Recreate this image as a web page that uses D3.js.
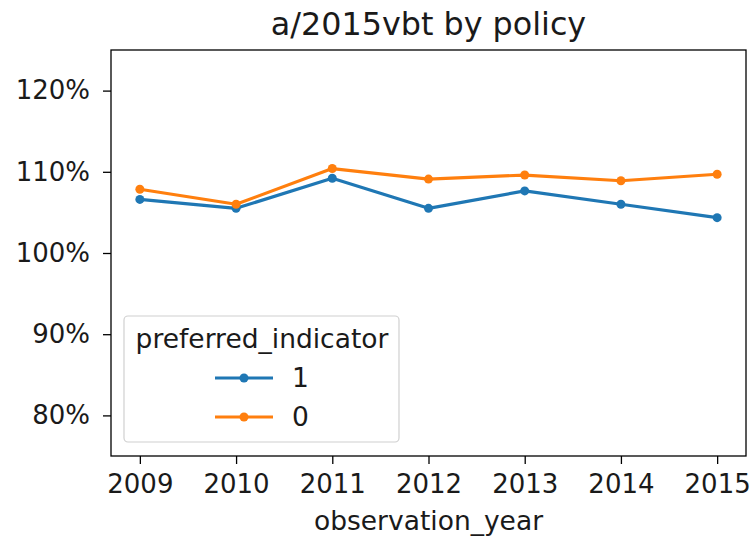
<!DOCTYPE html>
<html>
<head>
<meta charset="utf-8">
<script src="https://cdn.jsdelivr.net/npm/d3@7"></script>
<style>
  body { margin: 0; background: #fff; }
  text { font-family: "DejaVu Sans", sans-serif; fill: #1a1a1a; }
</style>
</head>
<body>
<script>
// data
var years = [2009, 2010, 2011, 2012, 2013, 2014, 2015];
var pref1 = [106.6, 105.5, 109.2, 105.5, 107.65, 106.0, 104.35];
var pref0 = [107.85, 106.0, 110.4, 109.1, 109.6, 108.9, 109.7];
var yTicks = [80, 90, 100, 110, 120];
var seriesNames = ["1", "0"];
var seriesColors = ["#1f77b4", "#ff7f0e"];

var width = 756, height = 538;
// plot area edges (don't call it "top", window.top is read only)
var plotL = 111, plotR = 746, plotT = 50, plotB = 456;

var svg = d3.select("body").append("svg")
    .attr("width", width)
    .attr("height", height);

// scales, matplotlib style margins on x
var x = d3.scaleLinear().domain([2008.7, 2015.3]).range([plotL, plotR]);
var y = d3.scaleLinear().domain([75, 125]).range([plotB, plotT]);

// axes
var xAxis = svg.append("g")
    .attr("transform", "translate(0," + plotB + ")")
    .call(d3.axisBottom(x).tickValues(years).tickFormat(d3.format("d")).tickSize(8).tickPadding(11));
var yAxis = svg.append("g")
    .attr("transform", "translate(" + plotL + ",0)")
    .call(d3.axisLeft(y).tickValues(yTicks).tickFormat(function(d){ return d + "%"; }).tickSize(8).tickPadding(13));

[xAxis, yAxis].forEach(function(g){
  g.select(".domain").remove();
  g.selectAll("line").attr("stroke", "#000").attr("stroke-width", 1.3);
  g.selectAll("text").style("font-size", "26px").attr("fill", "#1a1a1a");
});

// frame
svg.append("rect")
    .attr("x", plotL).attr("y", plotT)
    .attr("width", plotR - plotL).attr("height", plotB - plotT)
    .attr("fill", "none").attr("stroke", "#000").attr("stroke-width", 1.3);

// lines
var line = d3.line()
    .x(function(d, i){ return x(years[i]); })
    .y(function(d){ return y(d); });

[pref1, pref0].forEach(function(vals, k){
  svg.append("path")
      .datum(vals)
      .attr("fill", "none")
      .attr("stroke", seriesColors[k])
      .attr("stroke-width", 3.2)
      .attr("stroke-linejoin", "round")
      .attr("stroke-linecap", "round")
      .attr("d", line);
  svg.selectAll(".pt" + k)
      .data(vals)
      .enter().append("circle")
      .attr("class", "pt" + k)
      .attr("cx", function(d, i){ return x(years[i]); })
      .attr("cy", function(d){ return y(d); })
      .attr("r", 4.5)
      .attr("fill", seriesColors[k]);
});

// title and x label
svg.append("text")
    .attr("x", (plotL + plotR) / 2).attr("y", 35)
    .attr("text-anchor", "middle")
    .style("font-size", "31.8px")
    .text("a/2015vbt by policy");

svg.append("text")
    .attr("x", (plotL + plotR) / 2).attr("y", 530)
    .attr("text-anchor", "middle")
    .style("font-size", "26.5px")
    .text("observation_year");

// legend
var legend = svg.append("g");
legend.append("rect")
    .attr("x", 124).attr("y", 316)
    .attr("width", 275).attr("height", 126)
    .attr("rx", 4)
    .attr("fill", "#fff").attr("fill-opacity", 0.8)
    .attr("stroke", "#d0d0d0").attr("stroke-width", 1.2);
legend.append("text")
    .attr("x", 262).attr("y", 348)
    .attr("text-anchor", "middle")
    .style("font-size", "26.5px")
    .text("preferred_indicator");

seriesNames.forEach(function(name, k){
  var ly = 378 + k * 39;
  legend.append("line")
      .attr("x1", 215).attr("x2", 273)
      .attr("y1", ly).attr("y2", ly)
      .attr("stroke", seriesColors[k]).attr("stroke-width", 3.2);
  legend.append("circle")
      .attr("cx", 244).attr("cy", ly).attr("r", 4.5)
      .attr("fill", seriesColors[k]);
  legend.append("text")
      .attr("x", 292).attr("y", ly + 9)
      .style("font-size", "26.5px")
      .text(name);
});
</script>
</body>
</html>
